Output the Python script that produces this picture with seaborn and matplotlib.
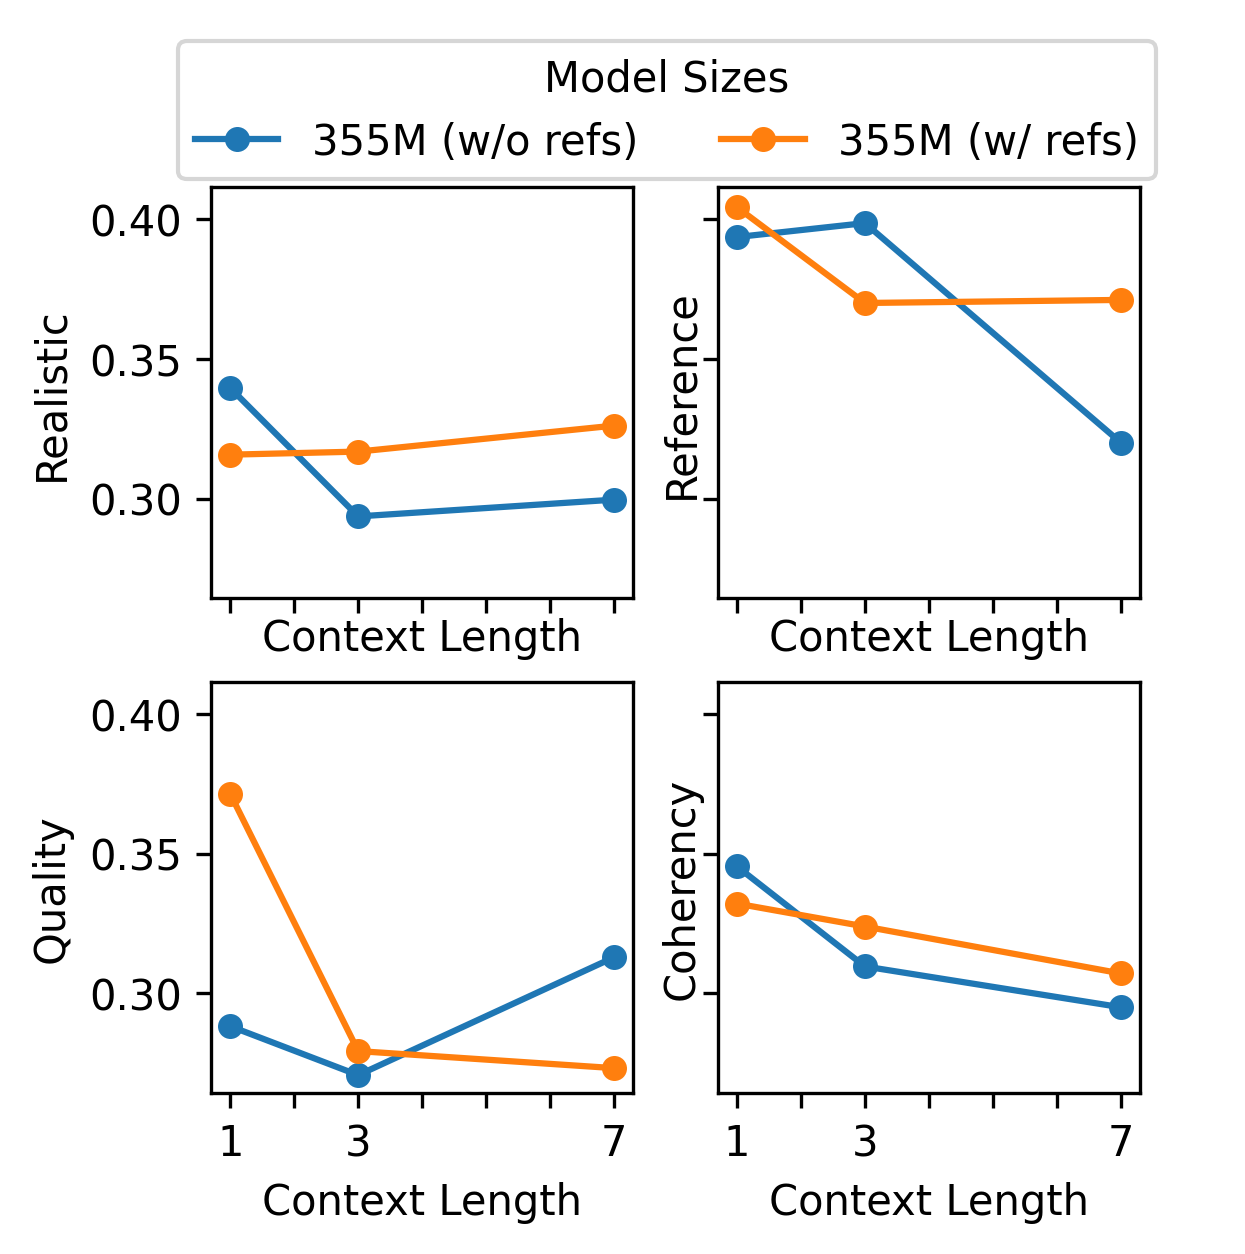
import matplotlib
matplotlib.use("Agg")
import matplotlib.pyplot as plt
import seaborn as sns
import pandas as pd
from matplotlib.lines import Line2D

context = [1, 3, 7]
series = ["355M (w/o refs)", "355M (w/ refs)"]
metrics = ["Realistic", "Reference", "Quality", "Coherency"]

realistic_wo = [0.3396, 0.2936, 0.2996]
realistic_w = [0.3157, 0.3168, 0.3261]
reference_wo = [0.3936, 0.3986, 0.3200]
reference_w = [0.4043, 0.3700, 0.3711]
quality_wo = [0.2882, 0.2707, 0.3129]
quality_w = [0.3714, 0.2793, 0.2732]
coherency_wo = [0.3454, 0.3096, 0.2950]
coherency_w = [0.3321, 0.3239, 0.3071]

values = {
    "Realistic": (realistic_wo, realistic_w),
    "Reference": (reference_wo, reference_w),
    "Quality": (quality_wo, quality_w),
    "Coherency": (coherency_wo, coherency_w),
}

rows = []
for m in metrics:
    for s, vals in zip(series, values[m]):
        for c, v in zip(context, vals):
            rows.append({"metric": m, "model": s, "context": c, "value": v})
df = pd.DataFrame(rows)

plt.rcParams["font.family"] = ["DejaVu Sans"]
plt.rcParams["font.size"] = 10

fig, axes = plt.subplots(2, 2, figsize=(4.15, 4.183), dpi=300)
fig.subplots_adjust(left=0.1695, right=0.9157, top=0.850, bottom=0.1283, wspace=0.2, hspace=0.204)

palette = ["#1f77b4", "#ff7f0e"]
for i, (ax, m) in enumerate(zip(axes.flat, metrics)):
    sns.lineplot(data=df[df.metric == m], x="context", y="value", hue="model",
                 hue_order=series, palette=palette, marker="o", markersize=6,
                 markeredgewidth=0, linewidth=1.5, ax=ax, legend=False)
    ax.set_xticks(range(1, 8))
    ax.set_xticklabels(["1", "", "3", "", "", "", "7"])
    ax.set_xlim(0.7, 7.3)
    ax.set_yticks([0.30, 0.35, 0.40])
    ax.set_yticklabels(["0.30", "0.35", "0.40"])
    ax.set_ylim(0.2643, 0.4114)
    if i < 2:
        ax.tick_params(axis="x", labelbottom=False)
        ax.set_xlabel("Context Length", labelpad=1.1)
    else:
        ax.set_xlabel("Context Length")
    if i % 2 == 1:
        ax.tick_params(axis="y", labelleft=False)
        ax.set_ylabel(m, labelpad=0.2)
    else:
        ax.set_ylabel(m)

handles = [Line2D([], [], color=c, marker="o", markersize=6, markeredgewidth=0, linewidth=1.5)
           for c in palette]
fig.legend(handles, series, title="Model Sizes", ncol=2, loc="upper center",
           bbox_to_anchor=(0.5357, 0.983), frameon=True)

fig.savefig("out.png", dpi=300)
